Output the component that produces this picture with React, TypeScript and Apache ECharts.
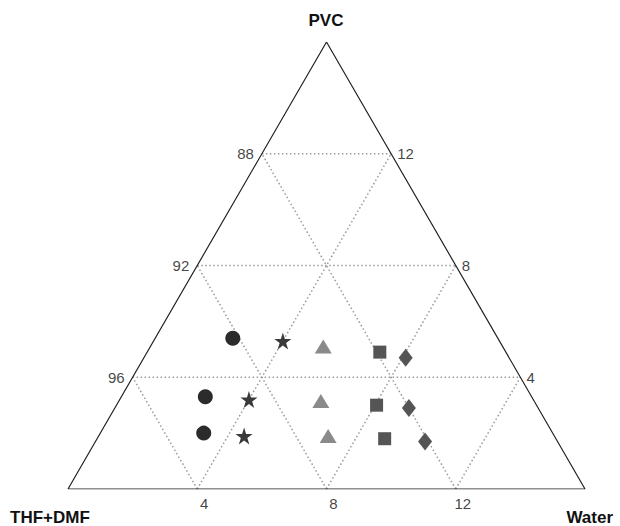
import React, { useEffect, useRef } from "react";
import * as echarts from "echarts";

const TOTAL = 16;
const gridLevels = [4, 8, 12];
const leftTickLabels = ["96", "92", "88"];
const rightTickLabels = ["4", "8", "12"];
const bottomTickLabels = ["4", "8", "12"];

// ternary values: water %, PVC % (THF+DMF is the remainder)
const circleWater = [2.4, 2.6, 3.2];
const circlePVC = [5.4, 3.3, 2.0];
const starWater = [4.0, 4.0, 4.5];
const starPVC = [5.3, 3.2, 1.9];
const triWater = [5.35, 6.25, 7.1];
const triPVC = [5.1, 3.15, 1.9];
const squareWater = [7.2, 8.05, 8.9];
const squarePVC = [4.9, 3.0, 1.8];
const diamondWater = [8.1, 9.1, 10.2];
const diamondPVC = [4.7, 2.9, 1.7];

const H = Math.sqrt(3) / 2;
const toXY = (water: number, pvc: number) => [water + pvc / 2, pvc * H];

const STAR =
  "path://M50,0 L61.2,34.5 L97.6,34.5 L68.2,55.9 L79.4,90.5 L50,69.1 L20.6,90.5 L31.8,55.9 L2.4,34.5 L38.8,34.5 Z";

export default function App() {
  const ref = useRef<HTMLDivElement>(null);
  useEffect(() => {
    if (!ref.current) return;
    const chart = echarts.init(ref.current, undefined, { renderer: "svg" });
    const font = "'Liberation Sans', Arial, sans-serif";

    const lineSeries = (pts: number[][], style: any) => ({
      type: "line",
      data: pts,
      symbol: "none",
      silent: true,
      lineStyle: style,
      z: 1,
    });

    const gridStyle = { color: "#9a9a9a", width: 1.5, type: [1.5, 2.5] };
    const series: any[] = [];
    gridLevels.forEach((g) => {
      series.push(lineSeries([toXY(0, g), toXY(TOTAL - g, g)], gridStyle));
      series.push(lineSeries([toXY(g, 0), toXY(g, TOTAL - g)], gridStyle));
      series.push(lineSeries([toXY(g, 0), toXY(0, g)], gridStyle));
    });
    series.push(
      lineSeries(
        [toXY(0, 0), toXY(TOTAL, 0), toXY(0, TOTAL), toXY(0, 0)],
        { color: "#222", width: 1.2, type: "solid" }
      )
    );

    const labelSeries = (pts: number[][], texts: string[], label: any) => ({
      type: "scatter",
      data: pts.map((p, i) => ({ value: p, name: texts[i] })),
      symbolSize: 0,
      silent: true,
      label: {
        show: true,
        formatter: "{b}",
        color: "#111",
        fontSize: 15,
        fontFamily: font,
        ...label,
      },
    });
    series.push(
      labelSeries(gridLevels.map((g) => toXY(0, g)), leftTickLabels, {
        position: "left",
        distance: 8,
      })
    );
    series.push(
      labelSeries(gridLevels.map((g) => toXY(TOTAL - g, g)), rightTickLabels, {
        position: "right",
        distance: 6,
      })
    );
    series.push(
      labelSeries(gridLevels.map((g) => toXY(g, 0)), bottomTickLabels, {
        position: "bottom",
        distance: 7,
        offset: [7, 0],
      })
    );

    const scat = (w: number[], p: number[], symbol: string, size: any, color: string) => ({
      type: "scatter",
      data: w.map((v, i) => toXY(v, p[i])),
      symbol,
      symbolSize: size,
      itemStyle: { color, opacity: 1 },
      z: 5,
    });
    series.push(scat(circleWater, circlePVC, "circle", 15, "#2b2b2b"));
    series.push(scat(starWater, starPVC, STAR, 17, "#3a3a3a"));
    series.push(scat(triWater, triPVC, "triangle", [17, 14], "#8a8a8a"));
    series.push(scat(squareWater, squarePVC, "rect", 13, "#555555"));
    series.push(scat(diamondWater, diamondPVC, "diamond", [14, 18], "#555555"));

    const titleStyle = (text: string, x: number, y: number, align: string) => ({
      type: "text",
      x,
      y,
      style: {
        text,
        font: `bold 17px ${font}`,
        fill: "#111",
        textAlign: align,
        textVerticalAlign: "middle",
      },
    });

    chart.setOption({
      animation: false,
      backgroundColor: "#ffffff",
      grid: { left: 68, right: 35, top: 42, bottom: 37 },
      xAxis: { type: "value", min: 0, max: TOTAL, show: false },
      yAxis: { type: "value", min: 0, max: TOTAL * H, show: false },
      graphic: [
        titleStyle("PVC", 326, 20, "center"),
        titleStyle("THF+DMF", 10, 517, "left"),
        titleStyle("Water", 613, 517, "right"),
      ],
      series,
    });
    return () => chart.dispose();
  }, []);
  return (
    <div
      ref={ref}
      style={{ position: "fixed", left: 0, top: 0, width: 620, height: 526 }}
    />
  );
}
